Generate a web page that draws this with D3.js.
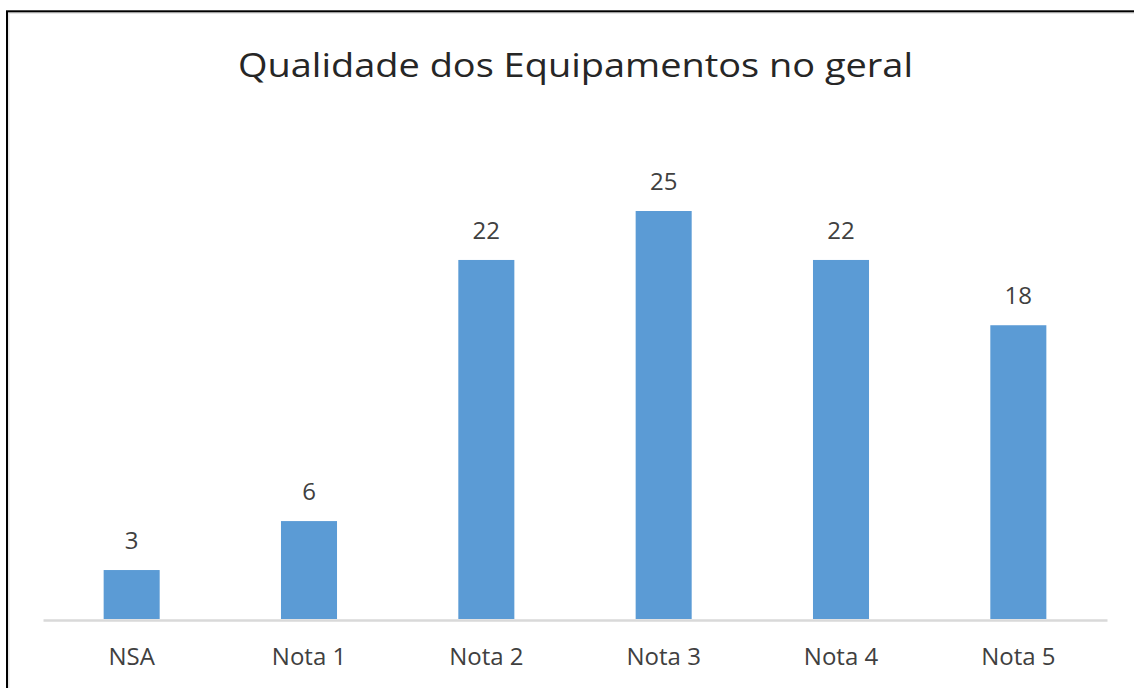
<!DOCTYPE html>
<html>
<head>
<meta charset="utf-8">
<script src="https://cdn.jsdelivr.net/npm/d3@7"></script>
<style>
  html, body { margin: 0; padding: 0; background: #fff; }
  svg { display: block; }
</style>
</head>
<body>
<svg id="chart" width="1134" height="688"></svg>
<script>
const title = "Qualidade dos Equipamentos no geral";
const categories = ["NSA", "Nota 1", "Nota 2", "Nota 3", "Nota 4", "Nota 5"];
const values = [3, 6, 22, 25, 22, 18];
const yDomain = [0, 30];

const svg = d3.select("#chart");
const W = 1134, H = 688;
const FONT = "'Open Sans', 'Noto Sans', sans-serif";

svg.append("rect").attr("width", W).attr("height", H).attr("fill", "#fff");

// frame with faint inner shadow
svg.append("rect").attr("x", 8.5).attr("y", 13).attr("width", W).attr("height", H)
  .attr("fill", "none").attr("stroke", "#e6e6e6").attr("stroke-width", 2);
svg.append("rect").attr("x", 7).attr("y", 11.3).attr("width", W).attr("height", H)
  .attr("fill", "none").attr("stroke", "#000").attr("stroke-width", 2);

const x = d3.scaleBand().domain(categories).range([43, 1107])
  .paddingInner(0.684).paddingOuter(0.342);
const y = d3.scaleLinear().domain(yDomain).range([619, 619 - 16.32 * 30]);

// bars
svg.append("g").selectAll("rect").data(values).join("rect")
  .attr("x", (d, i) => x(categories[i]))
  .attr("width", x.bandwidth())
  .attr("y", d => y(d))
  .attr("height", d => y(0) - y(d))
  .attr("fill", "#5B9BD5");

// axis
const axis = svg.append("g").attr("transform", "translate(0,620)")
  .call(d3.axisBottom(x).tickSize(0).tickSizeOuter(0));
axis.select(".domain").attr("stroke", "#d9d9d9").attr("stroke-width", 2.5);
axis.selectAll(".tick text")
  .attr("y", 45).attr("dy", 0)
  .attr("font-family", FONT).attr("font-size", 24).attr("fill", "#404040");

// value labels
svg.append("g").selectAll("text").data(values).join("text")
  .attr("x", (d, i) => x(categories[i]) + x.bandwidth() / 2)
  .attr("y", d => y(d) - 21)
  .attr("text-anchor", "middle")
  .attr("font-family", FONT).attr("font-size", 24).attr("fill", "#404040")
  .text(d => d);

// title
svg.append("text")
  .attr("x", 575.5).attr("y", 77)
  .attr("text-anchor", "middle")
  .attr("font-family", FONT).attr("font-size", 33).attr("fill", "#262626")
  .attr("textLength", 675).attr("lengthAdjust", "spacingAndGlyphs")
  .text(title);
</script>
</body>
</html>
